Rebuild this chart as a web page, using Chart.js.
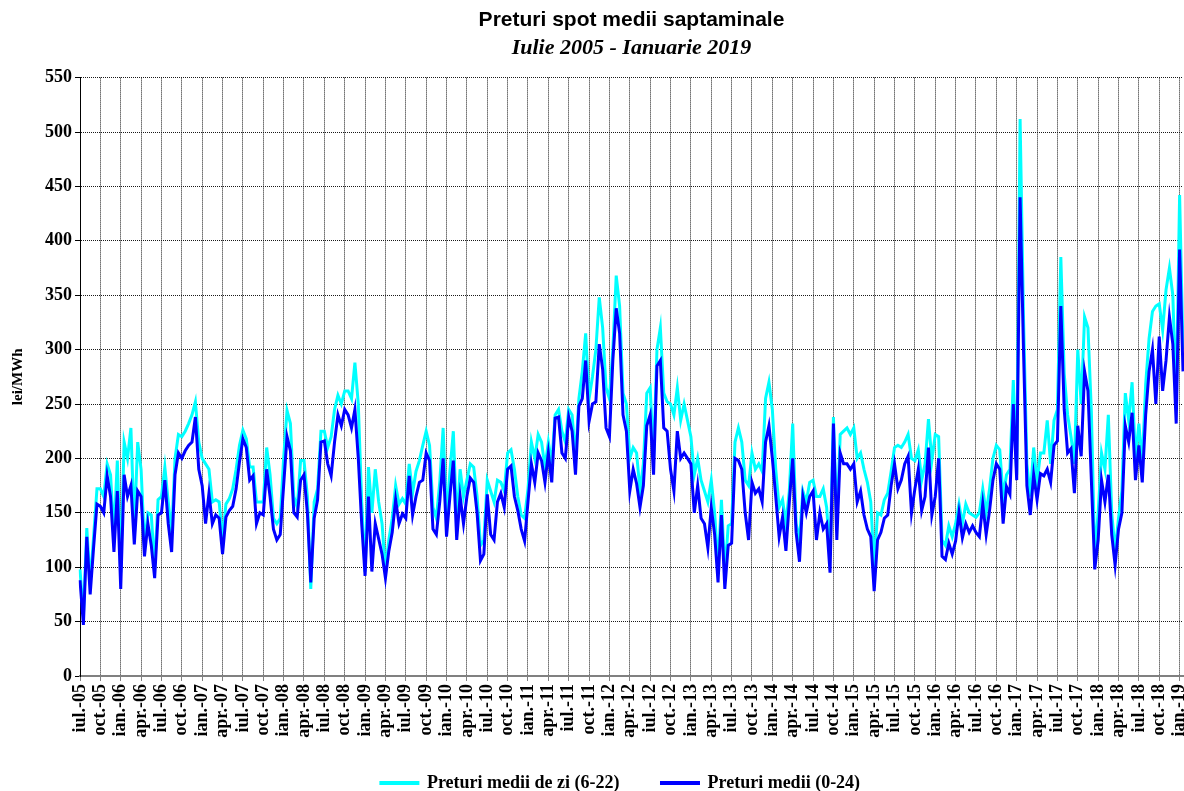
<!DOCTYPE html>
<html>
<head>
<meta charset="utf-8">
<title>Preturi spot medii saptaminale</title>
<script src="https://cdn.jsdelivr.net/npm/chart.js@4.4.1/dist/chart.umd.min.js"></script>
<style>
  html, body { margin: 0; padding: 0; background: #fff; }
  canvas { display: block; }
</style>
</head>
<body>
<canvas id="chart" width="1184" height="791"></canvas>
<script>
// one label per quarter; the series hold two readings per month
const quarterLabels = [
  "iul.-05", "oct.-05", "ian.-06", "apr.-06", "iul.-06", "oct.-06", "ian.-07", "apr.-07",
  "iul.-07", "oct.-07", "ian.-08", "apr.-08", "iul.-08", "oct.-08", "ian.-09", "apr.-09",
  "iul.-09", "oct.-09", "ian.-10", "apr.-10", "iul.-10", "oct.-10", "ian.-11", "apr.-11",
  "iul.-11", "oct.-11", "ian.-12", "apr.-12", "iul.-12", "oct.-12", "ian.-13", "apr.-13",
  "iul.-13", "oct.-13", "ian.-14", "apr.-14", "iul.-14", "oct.-14", "ian.-15", "apr.-15",
  "iul.-15", "oct.-15", "ian.-16", "apr.-16", "iul.-16", "oct.-16", "ian.-17", "apr.-17",
  "iul.-17", "oct.-17", "ian.-18", "apr.-18", "iul.-18", "oct.-18", "ian.-19",
];
const POINTS_PER_QUARTER = 6;

// Preturi medii (0-24), lei/MWh
const pretMediu = [
  88, 47, 128, 75, 118, 158,     // iul.-05
  156, 150, 184, 165, 114, 170,  // oct.-05
  80, 185, 165, 175, 121, 170,   // ian.-06
  165, 110, 140, 120, 90, 148,   // apr.-06
  150, 180, 140, 114, 185, 205,  // iul.-06
  200, 207, 212, 215, 238, 190,  // oct.-06
  175, 140, 168, 140, 148, 145,  // ian.-07
  112, 146, 152, 156, 172, 197,  // apr.-07
  218, 210, 180, 184, 140, 150,  // iul.-07
  148, 190, 165, 135, 125, 130,  // oct.-07
  175, 220, 207, 150, 146, 180,  // ian.-08
  185, 150, 86, 145, 162, 215,   // apr.-08
  216, 195, 184, 215, 240, 230,  // iul.-08
  245, 240, 228, 245, 200, 140,  // oct.-08
  92, 165, 96, 140, 126, 112,    // ian.-09
  90, 115, 132, 162, 140, 149,   // apr.-09
  145, 184, 148, 165, 178, 180,  // iul.-09
  205, 198, 135, 130, 160, 200,  // oct.-09
  128, 165, 198, 125, 165, 140,  // ian.-10
  165, 182, 178, 150, 106, 112,  // apr.-10
  167, 130, 125, 160, 168, 155,  // iul.-10
  190, 193, 165, 152, 135, 124,  // oct.-10
  160, 195, 178, 205, 198, 178,  // ian.-11
  205, 178, 237, 238, 205, 200,  // apr.-11
  238, 225, 185, 248, 255, 290,  // iul.-11
  234, 250, 252, 305, 282, 228,  // oct.-11
  220, 290, 338, 315, 240, 225,  // ian.-12
  170, 190, 177, 155, 175, 230,  // apr.-12
  240, 185, 285, 290, 228, 225,  // iul.-12
  190, 170, 225, 200, 205, 200,  // oct.-12
  195, 150, 175, 145, 140, 118,  // ian.-13
  155, 130, 86, 148, 80, 120,    // apr.-13
  122, 200, 198, 190, 150, 125,  // iul.-13
  178, 168, 172, 160, 215, 230,  // oct.-13
  200, 165, 128, 146, 115, 160,  // ian.-14
  200, 132, 105, 165, 150, 165,  // apr.-14
  170, 125, 150, 135, 140, 95,   // iul.-14
  232, 125, 205, 195, 195, 190,  // oct.-14
  195, 160, 170, 148, 135, 128,  // ian.-15
  78, 125, 132, 145, 148, 175,   // apr.-15
  195, 172, 180, 195, 202, 150,  // iul.-15
  172, 190, 152, 165, 210, 148,  // oct.-15
  165, 200, 110, 107, 122, 112,  // ian.-16
  124, 150, 127, 140, 132, 138,  // apr.-16
  132, 128, 158, 130, 152, 180,  // iul.-16
  195, 190, 140, 174, 167, 250,  // oct.-16
  180, 440, 300, 175, 148, 185,  // ian.-17
  162, 186, 184, 190, 178, 212,  // apr.-17
  216, 340, 245, 205, 209, 168,  // iul.-17
  230, 202, 280, 262, 180, 98,   // oct.-17
  125, 180, 160, 185, 130, 102,  // ian.-18
  135, 150, 230, 215, 242, 180,  // apr.-18
  212, 178, 240, 280, 300, 250,  // iul.-18
  312, 262, 290, 330, 305, 232,  // oct.-18
  392, 280,                      // ian.-19
];

// Preturi medii de zi (6-22), lei/MWh
const pretZi = [
  98, 55, 136, 85, 128, 172,     // iul.-05
  172, 165, 195, 185, 130, 198,  // oct.-05
  95, 215, 200, 228, 135, 215,   // ian.-06
  190, 120, 150, 148, 100, 162,  // apr.-06
  165, 192, 160, 130, 200, 222,  // iul.-06
  220, 225, 232, 240, 252, 215,  // oct.-06
  200, 195, 190, 160, 162, 160,  // ian.-07
  125, 158, 163, 172, 190, 212,  // apr.-07
  226, 218, 192, 192, 160, 160,  // iul.-07
  160, 210, 185, 145, 140, 145,  // oct.-07
  200, 244, 232, 165, 155, 198,  // ian.-08
  198, 165, 80, 160, 172, 225,   // apr.-08
  225, 210, 220, 245, 258, 250,  // iul.-08
  262, 262, 255, 288, 250, 160,  // oct.-08
  96, 192, 150, 190, 160, 140,   // ian.-09
  96, 125, 145, 175, 158, 163,   // apr.-09
  158, 195, 168, 188, 198, 212,  // iul.-09
  225, 212, 155, 145, 178, 228,  // oct.-09
  145, 188, 225, 140, 190, 165,  // ian.-10
  180, 195, 192, 165, 120, 125,  // apr.-10
  180, 170, 160, 180, 178, 170,  // iul.-10
  205, 208, 190, 165, 148, 145,  // oct.-10
  172, 215, 200, 222, 215, 192,  // ian.-11
  215, 195, 240, 245, 225, 215,  // apr.-11
  245, 240, 200, 255, 280, 315,  // iul.-11
  255, 275, 300, 348, 320, 265,  // oct.-11
  255, 300, 368, 340, 260, 250,  // ian.-12
  200, 210, 205, 170, 195, 260,  // apr.-12
  265, 200, 300, 320, 260, 252,  // iul.-12
  250, 240, 265, 235, 250, 235,  // oct.-12
  220, 185, 200, 180, 170, 160,  // ian.-13
  180, 150, 100, 162, 95, 138,   // apr.-13
  140, 215, 228, 215, 180, 175,  // iul.-13
  205, 190, 195, 188, 255, 270,  // oct.-13
  245, 190, 155, 162, 140, 170,  // ian.-14
  232, 140, 125, 170, 160, 178,  // apr.-14
  180, 165, 165, 172, 155, 110,  // iul.-14
  238, 140, 222, 225, 228, 222,  // oct.-14
  228, 200, 205, 190, 178, 160,  // ian.-15
  100, 150, 148, 162, 168, 188,  // apr.-15
  210, 212, 210, 215, 222, 200,  // iul.-15
  198, 208, 180, 195, 236, 198,  // oct.-15
  222, 220, 125, 120, 138, 128,  // ian.-16
  140, 158, 140, 158, 150, 148,  // apr.-16
  146, 150, 172, 150, 172, 200,  // iul.-16
  212, 208, 165, 185, 190, 272,  // oct.-16
  185, 512, 330, 195, 165, 210,  // ian.-17
  178, 205, 205, 235, 195, 235,  // apr.-17
  245, 385, 278, 240, 220, 195,  // iul.-17
  300, 250, 330, 320, 243, 110,  // oct.-17
  150, 205, 190, 240, 150, 115,  // ian.-18
  145, 170, 260, 235, 270, 200,  // apr.-18
  232, 195, 268, 310, 335, 340,  // iul.-18
  342, 318, 355, 375, 350, 250,  // oct.-18
  442, 300,                      // ian.-19
];

const labels = pretMediu.map((_, i) =>
  i % POINTS_PER_QUARTER === 0 ? quarterLabels[i / POINTS_PER_QUARTER] : "");

const SERIF = "'Liberation Serif', 'Times New Roman', serif";
const SANS = "'Liberation Sans', Arial, sans-serif";
const GRID = "#1a1a1a";
const NONE = "rgba(0,0,0,0)";

// only every 6th category gets a grid line / tick mark
const onQuarter = (color) => (c) => (c.index % POINTS_PER_QUARTER === 0 ? color : NONE);

// the legend sits a bit left of the plot centre and tucked under the x labels
const legendNudge = {
  id: "legendNudge",
  afterLayout(chart) {
    const legend = chart.legend;
    if (!legend) return;
    legend.left -= 11;
    legend.right -= 11;
    legend.top -= 14;
    legend.bottom -= 14;
  },
};

new Chart(document.getElementById("chart"), {
  type: "line",
  data: {
    labels,
    datasets: [
      {
        // drawn on top
        label: "Preturi medii (0-24)",
        data: pretMediu,
        borderColor: "#0000ff",
        backgroundColor: "#0000ff",
        borderWidth: 3,
        pointRadius: 0,
        tension: 0,
      },
      {
        label: "Preturi medii de zi (6-22)",
        data: pretZi,
        borderColor: "#00ffff",
        backgroundColor: "#00ffff",
        borderWidth: 3,
        pointRadius: 0,
        tension: 0,
      },
    ],
  },
  plugins: [legendNudge],
  options: {
    responsive: false,
    animation: false,
    layout: { padding: { left: 9, right: 1, top: 0, bottom: -25 } },
    plugins: {
      title: {
        display: true,
        fullSize: false,
        text: "Preturi spot medii saptaminale",
        color: "#000",
        font: { family: SANS, size: 21, weight: "bold" },
        padding: { top: 8, bottom: 0 },
      },
      subtitle: {
        display: true,
        fullSize: false,
        text: "Iulie 2005 - Ianuarie 2019",
        color: "#000",
        font: { family: SERIF, size: 22, weight: "bold", style: "italic" },
        padding: { top: 2, bottom: 16 },
      },
      legend: {
        position: "bottom",
        fullSize: false,
        reverse: true,
        labels: {
          color: "#000",
          font: { family: SERIF, size: 18, weight: "bold" },
          boxWidth: 37,
          boxHeight: 1,
          padding: 42,
        },
      },
      tooltip: { enabled: false },
    },
    scales: {
      x: {
        type: "category",
        offset: false,
        grid: {
          color: onQuarter(GRID),
          tickColor: onQuarter("#808080"),
          tickLength: 5,
        },
        border: { color: "#808080", width: 2, dash: [1, 1] },
        ticks: {
          autoSkip: false,
          minRotation: 90,
          maxRotation: 90,
          padding: 3,
          color: "#000",
          font: { family: SERIF, size: 18, weight: "bold" },
        },
        afterFit: (scale) => {
          scale.height = 70;
          // no extra room for the rotated last label: the plot runs to the right edge
          scale.paddingRight = 0;
        },
      },
      y: {
        min: 0,
        max: 550,
        grid: { color: GRID, tickColor: "#000", tickLength: 5 },
        border: { color: "#000", width: 1, dash: [1, 1] },
        ticks: {
          stepSize: 50,
          padding: 3,
          color: "#000",
          font: { family: SERIF, size: 18, weight: "bold" },
        },
        title: {
          display: true,
          text: "lei/MWh",
          color: "#000",
          padding: 0,
          font: { family: SERIF, size: 15, weight: "bold" },
        },
        afterFit: (scale) => { scale.width = 71; },
      },
    },
  },
});
</script>
</body>
</html>
